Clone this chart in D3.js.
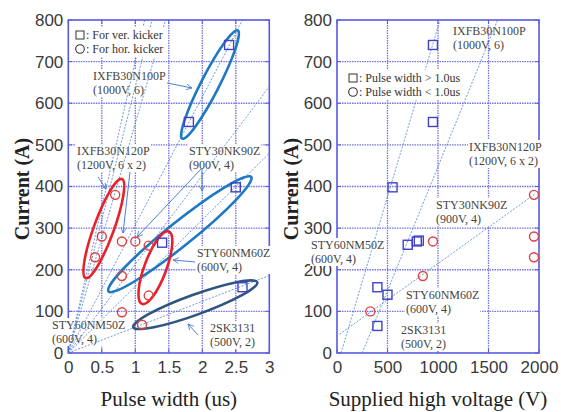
<!DOCTYPE html>
<html>
<head>
<meta charset="utf-8">
<script src="https://cdn.jsdelivr.net/npm/d3@7"></script>
<style>
  body { margin: 0; background: #fff; }
  svg { display: block; }
  .serif { font-family: "Liberation Serif", "DejaVu Serif", "Times New Roman", serif; }
  .sans { font-family: "Liberation Sans", Arial, sans-serif; }
</style>
</head>
<body>
<div id="chart"></div>
<script>
// switch current vs pulse width / supplied voltage

// left panel: pulse width (us) vs current (A)
const pwSquares = [[2.4, 740], [1.8, 555], [2.5, 398], [1.4, 265], [2.6, 158]];
const pwCircles = [[0.7, 380], [0.5, 280], [0.4, 230], [0.8, 268], [1.0, 268], [1.2, 258],
                   [0.8, 185], [1.2, 138], [0.8, 98], [1.1, 68]];
const pwLines = [[[0, 0], [1.14, 800]], [[0, 0], [1.45, 800]], [[0, 0], [2.6, 800]],
                 [[0, 0], [3, 640]], [[0, 0], [3, 480]], [[0, 0], [3, 186]], [[0, 0], [1.25, 800]]];
// ellipses: two ends + half width (px)
const pwEllipses = [
  {a: [1.7, 515], b: [2.53, 775], w: 9, c: "#1e78c2"},
  {a: [0.26, 180], b: [0.8, 418], w: 10, c: "#e8202a"},
  {a: [0.6, 148], b: [2.73, 423], w: 12, c: "#1e78c2"},
  {a: [1.1, 118], b: [1.5, 292], w: 11, c: "#e8202a"},
  {a: [0.97, 62], b: [2.82, 170], w: 10, c: "#2f5580"}
];

// right panel: supplied high voltage (V) vs current (A)
const hvSquares = [[950, 740], [950, 555], [550, 398], [700, 260], [790, 268], [810, 270],
                   [400, 158], [500, 140], [400, 65]];
const hvCircles = [[1950, 380], [1950, 280], [1950, 230], [950, 268], [850, 185], [330, 100]];
const hvLines = [[[40, 0], [1020, 800]], [[250, 0], [1590, 800]], [[25, 45], [1960, 382]]];

const yTicks = [0, 100, 200, 300, 400, 500, 600, 700, 800];
const pwTicks = [0, 0.5, 1, 1.5, 2, 2.5, 3];
const hvTicks = [0, 500, 1000, 1500, 2000];

const W = 561, H = 412;
const svg = d3.select("#chart").append("svg").attr("width", W).attr("height", H);

const frameCol = "#5a5ae0", gridCol = "#7272e6", lineCol = "#4d7fd0";
const fmt = d3.format("~g");

function panel(opt) {
  const x = d3.scaleLinear().domain(opt.xDomain).range([opt.left, opt.right]);
  const y = d3.scaleLinear().domain([0, 800]).range([353, 20]);
  const g = svg.append("g");

  // gridlines
  g.selectAll(".gx").data(opt.xTicks.slice(1, -1)).enter().append("line")
    .attr("x1", d => x(d)).attr("x2", d => x(d)).attr("y1", y(800)).attr("y2", y(0))
    .attr("stroke", gridCol).attr("stroke-width", 1.3).attr("stroke-dasharray", "1.5,1");
  g.selectAll(".gy").data(yTicks.slice(1, -1)).enter().append("line")
    .attr("x1", opt.left).attr("x2", opt.right).attr("y1", d => y(d)).attr("y2", d => y(d))
    .attr("stroke", gridCol).attr("stroke-width", 1.3).attr("stroke-dasharray", "1.5,1");

  // axes with inner ticks
  const ax = [
    [d3.axisBottom(x).tickValues(opt.xTicks).tickFormat(fmt).tickSize(0).tickPadding(8), `translate(0,${y(0)})`],
    [d3.axisLeft(y).tickValues(yTicks).tickFormat(fmt).tickSize(0).tickPadding(5), `translate(${opt.left},0)`]
  ];
  ax.forEach(([a, t]) => {
    const s = g.append("g").attr("transform", t).call(a);
    s.select(".domain").remove();
    s.attr("font-family", null).attr("font-size", null);
    s.selectAll("text").attr("class", "sans").style("font-size", "17px").attr("fill", "#3a3a3a");
  });

  // frame + ticks
  g.append("rect").attr("x", opt.left).attr("y", y(800)).attr("width", opt.right - opt.left)
    .attr("height", y(0) - y(800)).attr("fill", "none").attr("stroke", frameCol).attr("stroke-width", 1.6);
  [[opt.xTicks, true], [yTicks, false]].forEach(([tk, isX]) => {
    tk.forEach(v => {
      if (isX) {
        g.append("line").attr("x1", x(v)).attr("x2", x(v)).attr("y1", y(0)).attr("y2", y(0) - 4).attr("stroke", frameCol);
        g.append("line").attr("x1", x(v)).attr("x2", x(v)).attr("y1", y(800)).attr("y2", y(800) + 4).attr("stroke", frameCol);
      } else {
        g.append("line").attr("x1", opt.left).attr("x2", opt.left + 4).attr("y1", y(v)).attr("y2", y(v)).attr("stroke", frameCol);
        g.append("line").attr("x1", opt.right).attr("x2", opt.right - 4).attr("y1", y(v)).attr("y2", y(v)).attr("stroke", frameCol);
      }
    });
  });

  // annotation labels on white boxes
  const labels = g.append("g");
  opt.labels.forEach(l => {
    const t = labels.append("text").attr("class", "serif").attr("x", l.x).attr("y", l.y)
      .style("font-size", "12px").attr("fill", "#444");
    l.t.forEach((s, i) => t.append("tspan").attr("x", l.x).attr("dy", i ? 14 : 0).text(s));
    const bb = t.node().getBBox();
    if (l.bg) labels.insert("rect", "text").attr("x", bb.x - 1).attr("y", bb.y).attr("width", bb.width + 2)
      .attr("height", bb.height).attr("fill", "#fff");
  });

  // dashed fit lines
  g.selectAll(".fit").data(opt.lines).enter().append("line")
    .attr("x1", d => x(d[0][0])).attr("y1", d => y(d[0][1]))
    .attr("x2", d => x(d[1][0])).attr("y2", d => y(d[1][1]))
    .attr("stroke", lineCol).attr("stroke-width", 0.8).attr("stroke-dasharray", "2,1.5");

  // ellipses
  (opt.ellipses || []).forEach(e => {
    const x1 = x(e.a[0]), y1 = y(e.a[1]), x2 = x(e.b[0]), y2 = y(e.b[1]);
    const ang = Math.atan2(y2 - y1, x2 - x1) * 180 / Math.PI;
    g.append("ellipse").attr("cx", (x1 + x2) / 2).attr("cy", (y1 + y2) / 2)
      .attr("rx", Math.hypot(x2 - x1, y2 - y1) / 2).attr("ry", e.w)
      .attr("transform", `rotate(${ang},${(x1 + x2) / 2},${(y1 + y2) / 2})`)
      .attr("fill", "none").attr("stroke", e.c).attr("stroke-width", 2.6);
  });

  // arrows
  (opt.arrows || []).forEach(a => {
    g.append("line").attr("x1", a[0]).attr("y1", a[1]).attr("x2", a[2]).attr("y2", a[3])
      .attr("stroke", lineCol).attr("stroke-width", 1).attr("marker-end", "url(#arr)");
  });

  // points
  g.selectAll(".sq").data(opt.squares).enter().append("rect")
    .attr("x", d => x(d[0]) - 4.5).attr("y", d => y(d[1]) - 4.5).attr("width", 9).attr("height", 9)
    .attr("fill", "none").attr("stroke", "#4040c8").attr("stroke-width", 1.4);
  g.selectAll(".ci").data(opt.circles).enter().append("circle")
    .attr("cx", d => x(d[0])).attr("cy", d => y(d[1])).attr("r", 4.5)
    .attr("fill", "none").attr("stroke", "#e04040").attr("stroke-width", 1.4);

  // legend
  const lg = g.append("g");
  const lx = opt.legend.x, ly = opt.legend.y;
  const box = lg.append("rect").attr("fill", "#fff");
  lg.append("rect").attr("x", lx - 4).attr("y", ly - 4).attr("width", 8).attr("height", 8)
    .attr("fill", "none").attr("stroke", "#333").attr("stroke-width", 1);
  lg.append("circle").attr("cx", lx).attr("cy", ly + 14).attr("r", 4.3)
    .attr("fill", "none").attr("stroke", "#333").attr("stroke-width", 1.1);
  opt.legend.t.forEach((s, i) => lg.append("text").attr("class", "serif").attr("x", lx + 6).attr("y", ly + 4 + i * 14)
    .style("font-size", "12px").attr("fill", "#333").text(s));
  const lb = lg.node().getBBox();
  box.attr("x", lb.x - 2).attr("y", lb.y - 1).attr("width", lb.width + 4).attr("height", lb.height + 2);

  // titles
  svg.append("text").attr("class", "serif").attr("x", (opt.left + opt.right) / 2).attr("y", 406)
    .attr("text-anchor", "middle").style("font-size", "21px").attr("fill", "#222").text(opt.xTitle);
  svg.append("text").attr("class", "serif").attr("transform", `translate(${opt.yTitleX},189) rotate(-90)`)
    .attr("text-anchor", "middle").style("font-size", "20px").style("font-weight", "bold").attr("fill", "#222")
    .text("Current (A)");
}

svg.append("defs").append("marker").attr("id", "arr").attr("viewBox", "0 0 10 10")
  .attr("refX", 9).attr("refY", 5).attr("markerWidth", 7).attr("markerHeight", 7).attr("orient", "auto")
  .append("path").attr("d", "M1,1 L9,5 L1,9").attr("fill", "none").attr("stroke", lineCol).attr("stroke-width", 1.2);

panel({
  xDomain: [0, 3], left: 68.3, right: 269.3, xTicks: pwTicks,
  squares: pwSquares, circles: pwCircles, lines: pwLines, ellipses: pwEllipses,
  xTitle: "Pulse width (us)", yTitleX: 29,
  legend: {x: 80, y: 35, t: [": For ver. kicker", ": For hor. kicker"]},
  labels: [
    {x: 93, y: 80, t: ["IXFB30N100P", "(1000V, 6)"], bg: true},
    {x: 77, y: 155, t: ["IXFB30N120P", "(1200V, 6 x 2)"], bg: true},
    {x: 189, y: 155, t: ["STY30NK90Z", "(900V, 4)"], bg: true},
    {x: 197, y: 257, t: ["STY60NM60Z", "(600V, 4)"], bg: true},
    {x: 52, y: 329, t: ["STY60NM50Z", "(600V, 4)"], bg: true},
    {x: 210, y: 332, t: ["2SK3131", "(500V, 2)"], bg: true}
  ],
  arrows: [[167, 83, 192, 88], [98, 177, 106, 189], [130, 172, 123, 233], [202, 168, 202, 191],
           [202, 168, 137, 237], [195, 262, 173, 260], [198, 335, 188, 324]]
});

panel({
  xDomain: [0, 2000], left: 337, right: 539, xTicks: hvTicks,
  squares: hvSquares, circles: hvCircles, lines: hvLines,
  xTitle: "Supplied high voltage (V)", yTitleX: 298,
  legend: {x: 353, y: 78, t: [": Pulse width > 1.0us", ": Pulse width < 1.0us"]},
  labels: [
    {x: 453, y: 35, t: ["IXFB30N100P", "(1000V, 6)"]},
    {x: 469, y: 151, t: ["IXFB30N120P", "(1200V, 6 x 2)"], bg: true},
    {x: 436, y: 209, t: ["STY30NK90Z", "(900V, 4)"], bg: true},
    {x: 311, y: 249, t: ["STY60NM50Z", "(600V, 4)"], bg: true},
    {x: 406, y: 299, t: ["STY60NM60Z", "(600V, 4)"], bg: true},
    {x: 401, y: 334, t: ["2SK3131", "(500V, 2)"], bg: true}
  ]
});
</script>
</body>
</html>
